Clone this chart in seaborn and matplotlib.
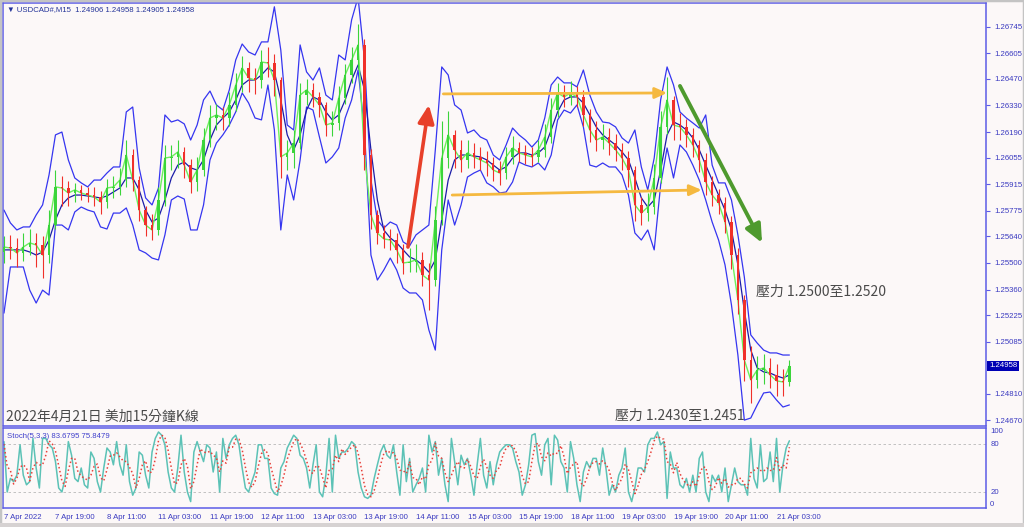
import numpy as np
import pandas as pd
import matplotlib
matplotlib.use("Agg")
import matplotlib.pyplot as plt
import matplotlib.transforms as mtransforms
from matplotlib.patches import Rectangle
import seaborn as sns

# USDCAD M15, values every 2 hours (8 bars)
close = [1.25584, 1.25579, 1.25553, 1.25584, 1.25606, 1.25595, 1.25542, 1.25700, 1.25901, 1.25895,
         1.25869, 1.25885, 1.25869, 1.25858, 1.25848, 1.25821, 1.25895, 1.25901, 1.25937, 1.26069,
         1.25937, 1.25779, 1.25700, 1.25674, 1.25832, 1.26053, 1.26059, 1.26085, 1.26016, 1.25927,
         1.25990, 1.26148, 1.26264, 1.26280, 1.26264, 1.26333, 1.26438, 1.26528, 1.26475, 1.26464,
         1.26559, 1.26554, 1.26464, 1.26059, 1.26080, 1.26132, 1.26385, 1.26412, 1.26375, 1.26333,
         1.26227, 1.26238, 1.26370, 1.26491, 1.26570, 1.26649, 1.26069, 1.25753, 1.25658, 1.25627,
         1.25621, 1.25569, 1.25500, 1.25505, 1.25516, 1.25437, 1.25410, 1.25727, 1.26053, 1.26175,
         1.26096, 1.26043, 1.26080, 1.26059, 1.26043, 1.26027, 1.25990, 1.25974, 1.26059, 1.26106,
         1.26080, 1.26069, 1.26059, 1.26096, 1.26164, 1.26306, 1.26396, 1.26375, 1.26396, 1.26375,
         1.26280, 1.26201, 1.26148, 1.26164, 1.26132, 1.26096, 1.26053, 1.25990, 1.25806, 1.25763,
         1.25795, 1.25948, 1.26217, 1.26359, 1.26227, 1.26217, 1.26175, 1.26122, 1.26043, 1.25927,
         1.25858, 1.25816, 1.25716, 1.25542, 1.25305, 1.24989, 1.24884, 1.24936, 1.24947, 1.24910,
         1.24879, 1.24873, 1.24958]
first_open = 1.25560

high = [1.25640, 1.25650, 1.25630, 1.25660, 1.25680, 1.25660, 1.25640, 1.25780, 1.25990, 1.25960,
        1.25930, 1.25920, 1.25910, 1.25900, 1.25900, 1.25880, 1.25940, 1.25960, 1.26000, 1.26150,
        1.26100, 1.25960, 1.25800, 1.25760, 1.25900, 1.26120, 1.26120, 1.26150, 1.26110, 1.26050,
        1.26060, 1.26210, 1.26330, 1.26340, 1.26320, 1.26400, 1.26500, 1.26590, 1.26560, 1.26530,
        1.26620, 1.26640, 1.26600, 1.26480, 1.26150, 1.26200, 1.26450, 1.26470, 1.26450, 1.26400,
        1.26350, 1.26300, 1.26430, 1.26550, 1.26640, 1.26760, 1.26680, 1.26100, 1.25780, 1.25700,
        1.25680, 1.25660, 1.25600, 1.25580, 1.25600, 1.25560, 1.25500, 1.25800, 1.26250, 1.26300,
        1.26200, 1.26150, 1.26150, 1.26130, 1.26110, 1.26090, 1.26060, 1.26040, 1.26110, 1.26170,
        1.26140, 1.26120, 1.26110, 1.26150, 1.26230, 1.26370, 1.26450, 1.26440, 1.26460, 1.26430,
        1.26410, 1.26310, 1.26250, 1.26230, 1.26210, 1.26180, 1.26130, 1.26090, 1.26010, 1.25850,
        1.25870, 1.26020, 1.26300, 1.26480, 1.26380, 1.26290, 1.26260, 1.26210, 1.26150, 1.26080,
        1.25960, 1.25890, 1.25850, 1.25750, 1.25580, 1.25330, 1.25060, 1.25010, 1.25020, 1.25000,
        1.24970, 1.24940, 1.24990]

low = [1.25500, 1.25520, 1.25480, 1.25510, 1.25540, 1.25480, 1.25420, 1.25500, 1.25680, 1.25800,
       1.25800, 1.25820, 1.25830, 1.25820, 1.25800, 1.25760, 1.25790, 1.25840, 1.25860, 1.25900,
       1.25880, 1.25720, 1.25640, 1.25620, 1.25650, 1.25800, 1.25990, 1.26000, 1.25950, 1.25870,
       1.25880, 1.25960, 1.26110, 1.26200, 1.26200, 1.26220, 1.26300, 1.26400, 1.26400, 1.26390,
       1.26420, 1.26480, 1.26380, 1.25950, 1.25990, 1.26000, 1.26100, 1.26330, 1.26320, 1.26270,
       1.26170, 1.26170, 1.26200, 1.26340, 1.26450, 1.26520, 1.25990, 1.25680, 1.25600, 1.25580,
       1.25570, 1.25500, 1.25440, 1.25450, 1.25450, 1.25380, 1.25250, 1.25380, 1.25700, 1.26000,
       1.26000, 1.25980, 1.26000, 1.26000, 1.25990, 1.25960, 1.25930, 1.25910, 1.25940, 1.26020,
       1.26030, 1.26020, 1.26010, 1.26030, 1.26060, 1.26130, 1.26270, 1.26320, 1.26330, 1.26320,
       1.26220, 1.26140, 1.26090, 1.26100, 1.26070, 1.26040, 1.25990, 1.25900, 1.25720, 1.25700,
       1.25720, 1.25760, 1.25920, 1.26180, 1.26150, 1.26150, 1.26110, 1.26060, 1.25980, 1.25860,
       1.25800, 1.25760, 1.25660, 1.25470, 1.25230, 1.24880, 1.24760, 1.24840, 1.24860, 1.24840,
       1.24800, 1.24800, 1.24850]

upper_band = [1.25779, 1.25711, 1.25674, 1.25690, 1.25690, 1.25753, 1.25806, 1.25964, 1.26175, 1.26190,
              1.26043, 1.25948, 1.25922, 1.25901, 1.25937, 1.25937, 1.25974, 1.26006, 1.26006, 1.26296,
              1.26322, 1.26001, 1.25843, 1.25806, 1.25895, 1.26280, 1.26243, 1.26254, 1.26233, 1.26148,
              1.26227, 1.26359, 1.26406, 1.26333, 1.26306, 1.26412, 1.26570, 1.26654, 1.26612, 1.26596,
              1.26665, 1.26665, 1.26850, 1.26622, 1.26227, 1.26201, 1.26649, 1.26507, 1.26464, 1.26528,
              1.26385, 1.26359, 1.26596, 1.26570, 1.26781, 1.26900, 1.26570, 1.25937, 1.25727, 1.25684,
              1.25716, 1.25700, 1.25611, 1.25590, 1.25648, 1.25674, 1.25700, 1.26096, 1.26533, 1.26491,
              1.26333, 1.26306, 1.26185, 1.26201, 1.26164, 1.26148, 1.26069, 1.26043, 1.26122, 1.26211,
              1.26175, 1.26148, 1.26111, 1.26148, 1.26264, 1.26438, 1.26480, 1.26449, 1.26449, 1.26428,
              1.26517, 1.26385, 1.26296, 1.26243, 1.26238, 1.26217, 1.26159, 1.26132, 1.26201, 1.26006,
              1.25885, 1.26053, 1.26359, 1.26533, 1.26438, 1.26296, 1.26264, 1.26238, 1.26211, 1.26280,
              1.26016, 1.25922, 1.25922, 1.25832, 1.25648, 1.25426, 1.25121, 1.25078, 1.25041, 1.25026,
              1.25026, 1.25015, 1.25015]

lower_band = [1.25236, 1.25479, 1.25479, 1.25479, 1.25357, 1.25289, 1.25357, 1.25331, 1.25700, 1.25700,
              1.25674, 1.25769, 1.25795, 1.25779, 1.25769, 1.25690, 1.25679, 1.25763, 1.25763, 1.25790,
              1.25700, 1.25569, 1.25553, 1.25526, 1.25516, 1.25648, 1.25832, 1.25853, 1.25837, 1.25674,
              1.25674, 1.25806, 1.26043, 1.26132, 1.26175, 1.26227, 1.26296, 1.26396, 1.26343, 1.26264,
              1.26254, 1.26438, 1.26201, 1.25674, 1.25964, 1.25832, 1.26043, 1.26322, 1.26306, 1.26164,
              1.26027, 1.26059, 1.26106, 1.26264, 1.26359, 1.26517, 1.26201, 1.25542, 1.25410, 1.25463,
              1.25526, 1.25463, 1.25368, 1.25342, 1.25342, 1.25305, 1.25147, 1.25041, 1.25569, 1.25832,
              1.25700, 1.25806, 1.25953, 1.25974, 1.25990, 1.25922, 1.25901, 1.25869, 1.25874, 1.25927,
              1.26032, 1.26016, 1.26006, 1.26027, 1.25990, 1.26069, 1.26254, 1.26306, 1.26290, 1.26333,
              1.26217, 1.26016, 1.26006, 1.26027, 1.26006, 1.26006, 1.25964, 1.25858, 1.25658, 1.25621,
              1.25674, 1.25569, 1.25911, 1.26106, 1.25948, 1.26122, 1.26085, 1.26016, 1.25937, 1.25832,
              1.25716, 1.25621, 1.25490, 1.25279, 1.25015, 1.24672, 1.24683, 1.24752, 1.24815, 1.24820,
              1.24778, 1.24741, 1.24752]

mid_line = [1.25569, 1.25569, 1.25569, 1.25569, 1.25558, 1.25542, 1.25558, 1.25621, 1.25727, 1.25806,
            1.25843, 1.25858, 1.25858, 1.25853, 1.25848, 1.25843, 1.25853, 1.25874, 1.25895, 1.25948,
            1.25948, 1.25885, 1.25779, 1.25716, 1.25737, 1.25832, 1.25948, 1.26016, 1.26032, 1.26001,
            1.25990, 1.26043, 1.26148, 1.26227, 1.26264, 1.26296, 1.26359, 1.26438, 1.26464, 1.26464,
            1.26491, 1.26528, 1.26507, 1.26359, 1.26175, 1.26096, 1.26175, 1.26306, 1.26375, 1.26359,
            1.26296, 1.26254, 1.26280, 1.26359, 1.26464, 1.26543, 1.26412, 1.26096, 1.25832, 1.25674,
            1.25632, 1.25606, 1.25569, 1.25532, 1.25516, 1.25490, 1.25452, 1.25516, 1.25727, 1.25937,
            1.26043, 1.26069, 1.26069, 1.26064, 1.26059, 1.26043, 1.26016, 1.25990, 1.26006, 1.26053,
            1.26080, 1.26080, 1.26069, 1.26080, 1.26111, 1.26201, 1.26296, 1.26359, 1.26375, 1.26375,
            1.26343, 1.26280, 1.26217, 1.26175, 1.26148, 1.26122, 1.26085, 1.26043, 1.25948, 1.25843,
            1.25795, 1.25832, 1.25990, 1.26175, 1.26243, 1.26227, 1.26201, 1.26159, 1.26096, 1.26016,
            1.25937, 1.25858, 1.25779, 1.25674, 1.25490, 1.25249, 1.25041, 1.24947, 1.24926, 1.24920,
            1.24905, 1.24894, 1.24910]

# Stochastic (5,3,3), read every hour (4 bars)
stoch_k = [83, 20, 37, 33, 41, 79, 41, 29, 33, 87, 50, 25, 87, 87, 79, 75, 58, 25, 20, 37,
           83, 66, 37, 33, 50, 29, 25, 70, 62, 33, 20, 50, 75, 70, 54, 83, 54, 41, 79, 33,
           16, 25, 70, 66, 41, 25, 70, 87, 95, 91, 79, 45, 25, 20, 50, 91, 45, 20, 8, 70,
           83, 70, 58, 79, 75, 45, 70, 20, 87, 62, 79, 87, 91, 79, 50, 25, 20, 33, 45, 79,
           79, 62, 62, 25, 18, 16, 50, 58, 75, 83, 91, 87, 66, 62, 50, 25, 54, 79, 20, 14,
           41, 87, 20, 91, 62, 70, 70, 75, 83, 79, 45, 25, 14, 12, 16, 37, 54, 70, 79, 66,
           62, 79, 45, 16, 79, 33, 62, 20, 29, 37, 50, 20, 91, 70, 83, 41, 62, 29, 8, 87,
           58, 29, 66, 54, 62, 41, 16, 54, 87, 41, 25, 58, 29, 54, 70, 75, 79, 79, 75, 58,
           45, 16, 29, 54, 91, 93, 58, 41, 79, 87, 29, 91, 85, 58, 50, 20, 83, 62, 29, 8,
           45, 58, 50, 62, 62, 41, 75, 50, 16, 29, 20, 41, 50, 75, 20, 8, 25, 50, 50, 45,
           79, 87, 87, 95, 79, 83, 12, 70, 50, 50, 29, 25, 37, 20, 41, 20, 62, 70, 20, 8,
           41, 33, 41, 20, 50, 8, 29, 50, 33, 29, 29, 16, 87, 37, 25, 79, 33, 37, 70, 33,
           87, 20, 54, 75, 84]
stoch_d = [80, 52, 47, 30, 37, 51, 54, 50, 34, 50, 57, 54, 54, 66, 84, 80, 71, 53, 34, 27,
           47, 62, 62, 45, 40, 37, 35, 41, 52, 55, 38, 34, 48, 65, 66, 69, 64, 59, 58, 51,
           43, 25, 37, 54, 59, 44, 45, 61, 84, 91, 88, 72, 50, 30, 32, 54, 62, 52, 24, 33,
           54, 74, 70, 69, 71, 66, 63, 45, 59, 56, 76, 76, 86, 86, 73, 51, 32, 26, 33, 52,
           68, 73, 68, 50, 35, 20, 28, 41, 61, 72, 83, 87, 81, 72, 59, 46, 43, 53, 51, 38,
           25, 47, 49, 66, 58, 74, 67, 72, 76, 79, 69, 50, 28, 17, 14, 22, 36, 54, 68, 72,
           69, 69, 62, 47, 47, 43, 58, 38, 37, 29, 39, 36, 54, 60, 81, 65, 62, 44, 33, 41,
           51, 58, 51, 50, 61, 52, 40, 37, 52, 61, 51, 41, 37, 47, 51, 66, 75, 78, 78, 71,
           59, 40, 30, 33, 58, 79, 81, 64, 59, 69, 65, 69, 68, 78, 64, 43, 51, 55, 58, 33,
           27, 37, 51, 57, 58, 55, 59, 55, 47, 32, 22, 30, 37, 55, 48, 34, 18, 28, 42, 48,
           58, 70, 84, 90, 87, 86, 58, 55, 44, 57, 43, 35, 30, 27, 33, 27, 41, 51, 51, 33,
           23, 27, 38, 31, 37, 26, 29, 29, 37, 37, 30, 25, 44, 47, 50, 47, 46, 50, 47, 47,
           63, 47, 54, 50, 76]

time_labels = ["7 Apr 2022", "7 Apr 19:00", "8 Apr 11:00", "11 Apr 03:00", "11 Apr 19:00",
               "12 Apr 11:00", "13 Apr 03:00", "13 Apr 19:00", "14 Apr 11:00", "15 Apr 03:00",
               "15 Apr 19:00", "18 Apr 11:00", "19 Apr 03:00", "19 Apr 19:00", "20 Apr 11:00",
               "21 Apr 03:00"]
price_ticks = [1.26745, 1.26605, 1.26470, 1.26330, 1.26190, 1.26055, 1.25915, 1.25775,
               1.25640, 1.25500, 1.25360, 1.25225, 1.25085, 1.24810, 1.24670]
last_price = 1.24958

# annotation points (bar index, price)
red_arrow = ((502, 1.25584), (528, 1.26333))
orange_top = ((546, 1.26391), (824, 1.26396))
orange_low = ((557, 1.25858), (867, 1.25885))
green_arrow = ((840, 1.26433), (942, 1.25606))

bars_per_label = 64
price_step = 8
stoch_step = 4

bar_idx = np.arange(len(close)) * price_step
stoch_idx = np.arange(len(stoch_k)) * stoch_step
df = pd.DataFrame({"bar": bar_idx, "close": close, "high": high, "low": low,
                   "upper": upper_band, "lower": lower_band, "mid": mid_line})
df["open"] = [first_open] + close[:-1]
st = pd.DataFrame({"bar": stoch_idx, "k": stoch_k, "d": stoch_d})

sns.set_theme(style="white")
plt.rcParams["font.family"] = ["Liberation Sans", "DejaVu Sans"]
cjk = ["Noto Sans CJK TC", "DejaVu Sans"]

BG = "#FCF8F8"
FRAME = "#5C5CE6"
TICK = "#3A3AC0"
W, H = 1024, 527


def px_rect(l, t, r, b):
    return [l / W, 1 - b / H, (r - l) / W, (b - t) / H]


fig = plt.figure(figsize=(W / 100, H / 100), dpi=100, facecolor=BG)
ax = fig.add_axes(px_rect(3, 3, 986, 426), facecolor=BG)
ax2 = fig.add_axes(px_rect(3, 428, 986, 508), facecolor=BG, sharex=ax)

# bands
sns.lineplot(data=df, x="bar", y="upper", ax=ax, color="#3535F0", linewidth=0.9, sort=False)
sns.lineplot(data=df, x="bar", y="lower", ax=ax, color="#3535F0", linewidth=0.9, sort=False)
sns.lineplot(data=df, x="bar", y="mid", ax=ax, color="#1C1CA8", linewidth=0.9, sort=False)
sns.lineplot(data=df, x="bar", y="close", ax=ax, color="#6CF05C", linewidth=1.0, sort=False)

# candles
up = df["close"] >= df["open"]
cols = np.where(up, "#3BD43B", "#F0302A")
ax.vlines(df["bar"], df["low"], df["high"], colors=cols, linewidth=0.8, zorder=3)
ax.bar(df["bar"], df["close"] - df["open"], bottom=df["open"], width=3.0,
       color=cols, linewidth=0, zorder=3)

# annotations
for (p0, p1), col, lw, hs in [(red_arrow, "#E8402A", 2.6, 0.9),
                              (orange_top, "#F5B940", 2.0, 0.6),
                              (orange_low, "#F5B940", 2.0, 0.6),
                              (green_arrow, "#4E9A2E", 2.8, 0.9)]:
    ax.annotate("", xy=p1, xytext=p0, zorder=5,
                arrowprops=dict(arrowstyle=f"-|>,head_length={hs},head_width={hs * 0.45}",
                                color=col, lw=lw, shrinkA=0, shrinkB=0))

ax.set_xlim(-1.2, 1220.3)
ax.set_ylim(1.24641, 1.26870)
ax.set_xlabel("")
ax.set_ylabel("")
ax.yaxis.tick_right()
ax.set_yticks(price_ticks)
ax.set_yticklabels([f"{v:.5f}" for v in price_ticks])
ax.tick_params(axis="y", direction="out", length=3, width=0.8, color=FRAME,
               labelsize=5.6, labelcolor=TICK, pad=3)
ax.tick_params(axis="x", length=0, labelbottom=False)
for s in ax.spines.values():
    s.set_color(FRAME)
    s.set_linewidth(1.1)

tr = mtransforms.blended_transform_factory(ax.transAxes, ax.transData)
ax.text(1.003, last_price, f"{last_price:.5f}", transform=tr, va="center", ha="left",
        color="white", fontsize=5.6, clip_on=False, zorder=6,
        bbox=dict(boxstyle="square,pad=0.2", fc="#0000B4", ec="none"))

# stochastic
ax2.axhline(80, color="#B8B8B8", linestyle=(0, (3, 3)), linewidth=0.6)
ax2.axhline(20, color="#B8B8B8", linestyle=(0, (3, 3)), linewidth=0.6)
sns.lineplot(data=st, x="bar", y="k", ax=ax2, color="#5CC2B6", linewidth=1.1, sort=False)
sns.lineplot(data=st, x="bar", y="d", ax=ax2, color="#E8413A", linewidth=1.1,
             linestyle=":", sort=False)
ax2.set_ylim(0, 100)
ax2.set_xlabel("")
ax2.set_ylabel("")
ax2.yaxis.tick_right()
ax2.set_yticks([100, 80, 20, 0])
ax2.set_yticklabels(["100", "80", "20", "0"])
ax2.tick_params(axis="y", length=0, labelsize=5.6, labelcolor=TICK, pad=3)
for lbl in ax2.get_yticklabels():
    if lbl.get_text() == "100":
        lbl.set_va("top")
    elif lbl.get_text() == "0":
        lbl.set_va("bottom")
ax2.set_xticks(np.arange(len(time_labels)) * bars_per_label)
ax2.set_xticklabels(time_labels)
ax2.tick_params(axis="x", direction="out", length=3, width=0.8, color=FRAME,
                labelsize=5.6, labelcolor=TICK, pad=1)
for lbl in ax2.get_xticklabels():
    lbl.set_ha("left")
for s in ax2.spines.values():
    s.set_color(FRAME)
    s.set_linewidth(1.1)
ax2.set_xlim(-1.2, 1220.3)

# texts
fig.text(7 / W, 1 - 10 / H, "\u25bc USDCAD#,M15  1.24906 1.24958 1.24905 1.24958",
         va="center", ha="left", fontsize=5.6, color="#233399")
fig.text(7 / W, 1 - 436 / H, "Stoch(5,3,3) 83.6795 75.8479",
         va="center", ha="left", fontsize=5.6, color="#4040CC")
fig.text(6 / W, 1 - 417 / H, "2022年4月21日 美加15分鐘K線", va="center", ha="left",
         fontsize=10, color="#4A4A4A", family=cjk)
fig.text(615 / W, 1 - 416 / H, "壓力 1.2430至1.2451", va="center", ha="left",
         fontsize=10, color="#4A4A4A", family=cjk)
fig.text(756 / W, 1 - 292 / H, "壓力 1.2500至1.2520", va="center", ha="left",
         fontsize=10, color="#4A4A4A", family=cjk)

# window frame
fig.patches.append(Rectangle((0, 0), 1, 1, transform=fig.transFigure, fill=False,
                             edgecolor="#C4C4C4", linewidth=2.5))
fig.patches.append(Rectangle((0, 0), 1, 4 / H, transform=fig.transFigure,
                             facecolor="#D6D2D2", edgecolor="none"))

fig.savefig("out.png", dpi=100, facecolor=BG)
